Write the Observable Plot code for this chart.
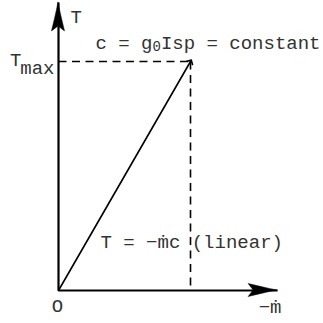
<!DOCTYPE html>
<html>
<head>
<meta charset="utf-8">
<script src="https://cdn.jsdelivr.net/npm/d3@7"></script>
<script src="https://cdn.jsdelivr.net/npm/@observablehq/plot@0.6"></script>
<style>
  html, body { margin: 0; padding: 0; background: #fff; }
  svg { display: block; }
</style>
</head>
<body>
<div id="chart"></div>
<script>
// ---- data (normalized units) ----
const mdotMax = 1;          // -mdot at Tmax
const tMax = 1;             // Tmax
const xAxisEnd = 1.66;      // length of -mdot axis
const yAxisEnd = 1.258;     // length of T axis

const thrustLine = [ {m: 0, T: 0}, {m: mdotMax, T: tMax} ];          // T = -mdot c (linear)
const axesLines  = [ {x1: 0, y1: 0, x2: xAxisEnd, y2: 0},
                     {x1: 0, y1: 0, x2: 0, y2: yAxisEnd} ];
const guideLines = [ {x1: 0, y1: tMax, x2: mdotMax, y2: tMax},
                     {x1: mdotMax, y1: tMax, x2: mdotMax, y2: 0} ];
const axisHeads  = [ {x: xAxisEnd, y: 0, dir: "x"}, {x: 0, y: yAxisEnd, dir: "y"} ];

const font = "'Liberation Mono', 'Courier New', monospace";
const fs = 19;
const ink = "#333";

const textOpts = {fontFamily: font, fill: ink, lineAnchor: "middle"};

const chart = Plot.plot({
  width: 323,
  height: 323,
  margin: 0,
  x: {domain: [0, 1], range: [58, 190], axis: null},
  y: {domain: [0, 1], range: [290, 61], axis: null},
  marks: [
    Plot.link(guideLines, {x1: "x1", y1: "y1", x2: "x2", y2: "y2",
      stroke: "#000", strokeWidth: 1.6, strokeDasharray: "8,5.5"}),
    Plot.line(thrustLine, {x: "m", y: "T", stroke: "#000", strokeWidth: 1.6, markerEnd: "arrow"}),
    Plot.link(axesLines, {x1: "x1", y1: "y1", x2: "x2", y2: "y2",
      stroke: "#000", strokeWidth: 2.2}),
    // labels
    Plot.text([{x: 0, y: yAxisEnd, t: "T"}], {x: "x", y: "y", text: "t", ...textOpts,
      fontSize: fs, textAnchor: "start", dx: 12, dy: 14}),
    Plot.text([{x: 0, y: tMax, t: "T"}], {x: "x", y: "y", text: "t", ...textOpts,
      fontSize: fs, textAnchor: "end", dx: -37, dy: -2}),
    Plot.text([{x: 0, y: tMax, t: "max"}], {x: "x", y: "y", text: "t", ...textOpts,
      fontSize: fs, textAnchor: "end", dx: -4, dy: 6}),
    Plot.text([{x: mdotMax, y: tMax, t: "c = g"}], {x: "x", y: "y", text: "t", ...textOpts,
      fontSize: fs, textAnchor: "start", dx: -95, dy: -19}),
    Plot.text([{x: mdotMax, y: tMax, t: "0"}], {x: "x", y: "y", text: "t", ...textOpts,
      fontSize: 14, textAnchor: "start", dx: -95 + 5 * fs * 0.6, dy: -14.5}),
    Plot.text([{x: mdotMax, y: tMax, t: "Isp = constant"}], {x: "x", y: "y", text: "t", ...textOpts,
      fontSize: fs, textAnchor: "start", dx: -95 + 5 * fs * 0.6 + 14 * 0.6, dy: -19}),
    Plot.text([{x: 0, y: 0, t: "T = \u2212\u1E41c (linear)"}], {x: "x", y: "y", text: "t", ...textOpts,
      fontSize: fs, textAnchor: "start", dx: 42, dy: -49}),
    Plot.text([{x: 0, y: 0, t: "O"}], {x: "x", y: "y", text: "t", ...textOpts,
      fontSize: fs, textAnchor: "middle", dx: -1, dy: 15}),
    Plot.text([{x: xAxisEnd, y: 0, t: "\u2212\u1E41"}], {x: "x", y: "y", text: "t", ...textOpts,
      fontSize: fs, textAnchor: "middle", dx: -7.5, dy: 16.5})
  ]
});

// filled axis arrowheads as plain paths in absolute coordinates, placed through the plot's scales
const sx = chart.scale("x"), sy = chart.scale("y");
const headShape = [[0,0],[-1.6,8],[-3.4,16],[-6.5,29],[0,24],[6.5,29],[3.4,16],[1.6,8]]; // pointing up, tip at 0,0
for (const h of axisHeads) {
  const tx = sx.apply(h.x), ty = sy.apply(h.y);
  const pts = headShape.map(([u, v]) => h.dir === "y" ? [tx + u, ty + v] : [tx - v, ty + u]);
  const d = "M" + pts.map(p => p[0].toFixed(2) + "," + p[1].toFixed(2)).join("L") + "Z";
  const path = document.createElementNS("http://www.w3.org/2000/svg", "path");
  path.setAttribute("d", d);
  path.setAttribute("fill", "black");
  path.setAttribute("stroke", "black");
  path.setAttribute("stroke-width", "0.5");
  chart.appendChild(path);
}
document.getElementById("chart").appendChild(chart);
</script>
</body>
</html>
